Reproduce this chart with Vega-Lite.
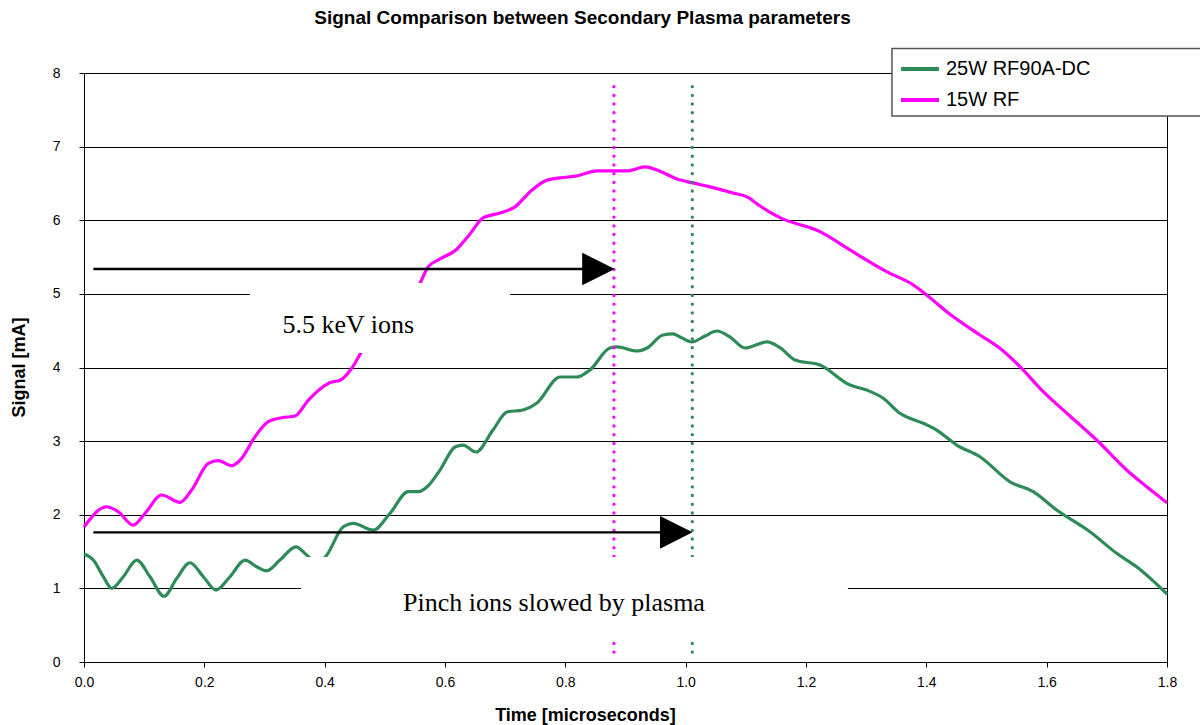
{
  "$schema": "https://vega.github.io/schema/vega-lite/v6.json",
  "width": 1083,
  "height": 589,
  "autosize": {"type": "none"},
  "padding": {"left": 84, "top": 73, "right": 33, "bottom": 63},
  "background": "white",
  "config": {"view": {"stroke": "#000", "strokeWidth": 1}, "font": "Liberation Sans"},
  "title": {"text": "Signal Comparison between Secondary Plasma parameters", "font": "Liberation Sans", "fontSize": 19, "fontWeight": "bold", "color": "#000", "anchor": "middle", "dx": -43, "offset": 5, "baseline": "alphabetic"},
  "datasets": {
    "series": [
      {"x": 0, "signal": 1.833, "series": "15W RF"},
      {"x": 0.0377, "signal": 2.109, "series": "15W RF"},
      {"x": 0.057, "signal": 2.041, "series": "15W RF"},
      {"x": 0.0819, "signal": 1.86, "series": "15W RF"},
      {"x": 0.1014, "signal": 2.019, "series": "15W RF"},
      {"x": 0.1291, "signal": 2.268, "series": "15W RF"},
      {"x": 0.1595, "signal": 2.168, "series": "15W RF"},
      {"x": 0.179, "signal": 2.336, "series": "15W RF"},
      {"x": 0.2066, "signal": 2.698, "series": "15W RF"},
      {"x": 0.2232, "signal": 2.734, "series": "15W RF"},
      {"x": 0.2455, "signal": 2.666, "series": "15W RF"},
      {"x": 0.2621, "signal": 2.766, "series": "15W RF"},
      {"x": 0.2842, "signal": 3.06, "series": "15W RF"},
      {"x": 0.3063, "signal": 3.264, "series": "15W RF"},
      {"x": 0.3286, "signal": 3.318, "series": "15W RF"},
      {"x": 0.3507, "signal": 3.341, "series": "15W RF"},
      {"x": 0.3729, "signal": 3.558, "series": "15W RF"},
      {"x": 0.4061, "signal": 3.785, "series": "15W RF"},
      {"x": 0.4283, "signal": 3.84, "series": "15W RF"},
      {"x": 0.445, "signal": 3.989, "series": "15W RF"},
      {"x": 0.4615, "signal": 4.215, "series": "15W RF"},
      {"x": 0.5, "signal": 4.578, "series": "15W RF"},
      {"x": 0.5335, "signal": 4.917, "series": "15W RF"},
      {"x": 0.5584, "signal": 5.144, "series": "15W RF"},
      {"x": 0.5717, "signal": 5.365, "series": "15W RF"},
      {"x": 0.5917, "signal": 5.474, "series": "15W RF"},
      {"x": 0.6182, "signal": 5.596, "series": "15W RF"},
      {"x": 0.6415, "signal": 5.814, "series": "15W RF"},
      {"x": 0.6631, "signal": 6.031, "series": "15W RF"},
      {"x": 0.6914, "signal": 6.099, "series": "15W RF"},
      {"x": 0.7163, "signal": 6.181, "series": "15W RF"},
      {"x": 0.7412, "signal": 6.384, "series": "15W RF"},
      {"x": 0.7662, "signal": 6.534, "series": "15W RF"},
      {"x": 0.7911, "signal": 6.575, "series": "15W RF"},
      {"x": 0.8193, "signal": 6.602, "series": "15W RF"},
      {"x": 0.8526, "signal": 6.67, "series": "15W RF"},
      {"x": 0.9024, "signal": 6.67, "series": "15W RF"},
      {"x": 0.9324, "signal": 6.724, "series": "15W RF"},
      {"x": 0.9523, "signal": 6.683, "series": "15W RF"},
      {"x": 0.9856, "signal": 6.561, "series": "15W RF"},
      {"x": 1.0122, "signal": 6.507, "series": "15W RF"},
      {"x": 1.0405, "signal": 6.453, "series": "15W RF"},
      {"x": 1.0787, "signal": 6.371, "series": "15W RF"},
      {"x": 1.1019, "signal": 6.317, "series": "15W RF"},
      {"x": 1.1235, "signal": 6.194, "series": "15W RF"},
      {"x": 1.1568, "signal": 6.035, "series": "15W RF"},
      {"x": 1.2233, "signal": 5.845, "series": "15W RF"},
      {"x": 1.2731, "signal": 5.596, "series": "15W RF"},
      {"x": 1.334, "signal": 5.302, "series": "15W RF"},
      {"x": 1.3783, "signal": 5.121, "series": "15W RF"},
      {"x": 1.4005, "signal": 4.985, "series": "15W RF"},
      {"x": 1.4338, "signal": 4.758, "series": "15W RF"},
      {"x": 1.4891, "signal": 4.442, "series": "15W RF"},
      {"x": 1.5223, "signal": 4.261, "series": "15W RF"},
      {"x": 1.5556, "signal": 4.011, "series": "15W RF"},
      {"x": 1.5943, "signal": 3.671, "series": "15W RF"},
      {"x": 1.6387, "signal": 3.341, "series": "15W RF"},
      {"x": 1.6831, "signal": 3.015, "series": "15W RF"},
      {"x": 1.7329, "signal": 2.607, "series": "15W RF"},
      {"x": 1.7662, "signal": 2.38, "series": "15W RF"},
      {"x": 1.8, "signal": 2.163, "series": "15W RF"},
      {"x": 0, "signal": 1.466, "series": "25W RF90A-DC"},
      {"x": 0.0155, "signal": 1.385, "series": "25W RF90A-DC"},
      {"x": 0.0321, "signal": 1.158, "series": "25W RF90A-DC"},
      {"x": 0.046, "signal": 1.0, "series": "25W RF90A-DC"},
      {"x": 0.0653, "signal": 1.158, "series": "25W RF90A-DC"},
      {"x": 0.0876, "signal": 1.385, "series": "25W RF90A-DC"},
      {"x": 0.1097, "signal": 1.158, "series": "25W RF90A-DC"},
      {"x": 0.133, "signal": 0.893, "series": "25W RF90A-DC"},
      {"x": 0.1541, "signal": 1.136, "series": "25W RF90A-DC"},
      {"x": 0.1762, "signal": 1.348, "series": "25W RF90A-DC"},
      {"x": 0.1983, "signal": 1.158, "series": "25W RF90A-DC"},
      {"x": 0.2194, "signal": 0.977, "series": "25W RF90A-DC"},
      {"x": 0.2426, "signal": 1.158, "series": "25W RF90A-DC"},
      {"x": 0.2676, "signal": 1.385, "series": "25W RF90A-DC"},
      {"x": 0.287, "signal": 1.293, "series": "25W RF90A-DC"},
      {"x": 0.3036, "signal": 1.239, "series": "25W RF90A-DC"},
      {"x": 0.3257, "signal": 1.385, "series": "25W RF90A-DC"},
      {"x": 0.3523, "signal": 1.565, "series": "25W RF90A-DC"},
      {"x": 0.3701, "signal": 1.452, "series": "25W RF90A-DC"},
      {"x": 0.3856, "signal": 1.357, "series": "25W RF90A-DC"},
      {"x": 0.4005, "signal": 1.421, "series": "25W RF90A-DC"},
      {"x": 0.4309, "signal": 1.837, "series": "25W RF90A-DC"},
      {"x": 0.4475, "signal": 1.883, "series": "25W RF90A-DC"},
      {"x": 0.4808, "signal": 1.792, "series": "25W RF90A-DC"},
      {"x": 0.5086, "signal": 2.019, "series": "25W RF90A-DC"},
      {"x": 0.539, "signal": 2.313, "series": "25W RF90A-DC"},
      {"x": 0.5556, "signal": 2.313, "series": "25W RF90A-DC"},
      {"x": 0.5717, "signal": 2.39, "series": "25W RF90A-DC"},
      {"x": 0.5917, "signal": 2.607, "series": "25W RF90A-DC"},
      {"x": 0.6166, "signal": 2.92, "series": "25W RF90A-DC"},
      {"x": 0.6299, "signal": 2.947, "series": "25W RF90A-DC"},
      {"x": 0.6515, "signal": 2.852, "series": "25W RF90A-DC"},
      {"x": 0.6797, "signal": 3.151, "series": "25W RF90A-DC"},
      {"x": 0.703, "signal": 3.395, "series": "25W RF90A-DC"},
      {"x": 0.7296, "signal": 3.423, "series": "25W RF90A-DC"},
      {"x": 0.7529, "signal": 3.518, "series": "25W RF90A-DC"},
      {"x": 0.7911, "signal": 3.871, "series": "25W RF90A-DC"},
      {"x": 0.8193, "signal": 3.871, "series": "25W RF90A-DC"},
      {"x": 0.8409, "signal": 3.967, "series": "25W RF90A-DC"},
      {"x": 0.8741, "signal": 4.265, "series": "25W RF90A-DC"},
      {"x": 0.8858, "signal": 4.279, "series": "25W RF90A-DC"},
      {"x": 0.919, "signal": 4.224, "series": "25W RF90A-DC"},
      {"x": 0.9357, "signal": 4.265, "series": "25W RF90A-DC"},
      {"x": 0.9623, "signal": 4.442, "series": "25W RF90A-DC"},
      {"x": 0.9789, "signal": 4.456, "series": "25W RF90A-DC"},
      {"x": 0.9905, "signal": 4.415, "series": "25W RF90A-DC"},
      {"x": 1.0105, "signal": 4.347, "series": "25W RF90A-DC"},
      {"x": 1.0321, "signal": 4.428, "series": "25W RF90A-DC"},
      {"x": 1.052, "signal": 4.496, "series": "25W RF90A-DC"},
      {"x": 1.0736, "signal": 4.415, "series": "25W RF90A-DC"},
      {"x": 1.0985, "signal": 4.265, "series": "25W RF90A-DC"},
      {"x": 1.1351, "signal": 4.347, "series": "25W RF90A-DC"},
      {"x": 1.1568, "signal": 4.269, "series": "25W RF90A-DC"},
      {"x": 1.1817, "signal": 4.102, "series": "25W RF90A-DC"},
      {"x": 1.2233, "signal": 4.034, "series": "25W RF90A-DC"},
      {"x": 1.2731, "signal": 3.762, "series": "25W RF90A-DC"},
      {"x": 1.3008, "signal": 3.694, "series": "25W RF90A-DC"},
      {"x": 1.3284, "signal": 3.582, "series": "25W RF90A-DC"},
      {"x": 1.3562, "signal": 3.378, "series": "25W RF90A-DC"},
      {"x": 1.3949, "signal": 3.242, "series": "25W RF90A-DC"},
      {"x": 1.4171, "signal": 3.151, "series": "25W RF90A-DC"},
      {"x": 1.4504, "signal": 2.947, "series": "25W RF90A-DC"},
      {"x": 1.4891, "signal": 2.788, "series": "25W RF90A-DC"},
      {"x": 1.539, "signal": 2.448, "series": "25W RF90A-DC"},
      {"x": 1.5777, "signal": 2.313, "series": "25W RF90A-DC"},
      {"x": 1.6166, "signal": 2.064, "series": "25W RF90A-DC"},
      {"x": 1.6719, "signal": 1.769, "series": "25W RF90A-DC"},
      {"x": 1.7163, "signal": 1.476, "series": "25W RF90A-DC"},
      {"x": 1.7495, "signal": 1.293, "series": "25W RF90A-DC"},
      {"x": 1.8, "signal": 0.923, "series": "25W RF90A-DC"}
    ],
    "markers": [
      {"x": 0.8808, "y": 7.815, "y2": 0.107, "series": "15W RF"},
      {"x": 1.011, "y": 7.815, "y2": 0.107, "series": "25W RF90A-DC"}
    ],
    "boxes": [
      {"x": 0.2759, "x2": 0.708, "y": 5.148, "y2": 4.197},
      {"x": 0.3606, "x2": 1.2697, "y": 1.425, "y2": 0.338}
    ],
    "labels": [
      {"x": 0.4393, "y": 4.473, "text": "5.5 keV ions"},
      {"x": 0.7811, "y": 0.686, "text": "Pinch ions slowed by plasma"}
    ],
    "arrows": [
      {"x": 0.0155, "x2": 0.86, "y": 5.338},
      {"x": 0.0155, "x2": 0.99, "y": 1.761}
    ],
    "heads": [
      {"x": 0.8551, "y": 5.338},
      {"x": 0.9844, "y": 1.761}
    ],
    "legendbox": [
      {"x": 1.3429, "x2": 1.8714, "y": 8.334, "y2": 7.417}
    ]
  },
  "layer": [
    {
      "data": {"name": "series"},
      "mark": {"type": "line", "interpolate": "monotone", "strokeWidth": 3.2},
      "encoding": {
        "x": {"field": "x", "type": "quantitative",
          "scale": {"domain": [0, 1.8], "nice": false, "zero": false},
          "axis": {"values": [0, 0.2, 0.4, 0.6, 0.8, 1.0, 1.2, 1.4, 1.6, 1.8], "format": ".1f", "title": "Time [microseconds]", "grid": false, "tickSize": 5, "tickColor": "#000", "domainColor": "#000", "labelFontSize": 14, "labelColor": "#000", "labelFont": "Liberation Sans", "labelPadding": 8, "labelFlush": false, "titleFont": "Liberation Sans", "titleFontSize": 18, "titleFontWeight": "bold", "titleColor": "#000", "titleX": 501, "titleY": 58, "titleBaseline": "alphabetic", "titleAlign": "center"}},
        "y": {"field": "signal", "type": "quantitative",
          "scale": {"domain": [0, 8], "nice": false, "zero": false},
          "axis": {"values": [0, 1, 2, 3, 4, 5, 6, 7, 8], "format": "d", "title": "Signal [mA]", "grid": true, "gridColor": "#000", "gridOpacity": 1, "gridWidth": 1, "tickSize": 5, "tickColor": "#000", "domainColor": "#000", "labelFontSize": 14, "labelColor": "#000", "labelFont": "Liberation Sans", "labelPadding": 19, "titleFont": "Liberation Sans", "titleFontSize": 18, "titleFontWeight": "bold", "titleColor": "#000", "titleX": -60, "titleY": 294, "titleAngle": 270, "titleBaseline": "alphabetic", "titleAlign": "center"}},
        "color": {"field": "series", "type": "nominal",
          "scale": {"domain": ["25W RF90A-DC", "15W RF"], "range": ["#2E8B57", "#FF00FF"]},
          "legend": {"orient": "none", "legendX": 815, "legendY": -25, "title": null, "symbolType": "stroke", "symbolSize": 1444, "symbolStrokeWidth": 4, "labelFontSize": 20, "labelFont": "Liberation Sans", "labelColor": "#000", "labelOffset": 5, "rowPadding": -7.5, "padding": 0}}
      }
    },
    {
      "data": {"name": "markers"},
      "mark": {"type": "rule", "strokeWidth": 3.3, "strokeCap": "round", "strokeDash": [0.1, 8.6]},
      "encoding": {
        "x": {"field": "x", "type": "quantitative", "title": "Time [microseconds]", "scale": {"domain": [0, 1.8], "nice": false, "zero": false}},
        "y": {"field": "y", "type": "quantitative", "title": "Signal [mA]", "scale": {"domain": [0, 8], "nice": false, "zero": false}},
        "y2": {"field": "y2"},
        "stroke": {"field": "series", "type": "nominal", "scale": {"domain": ["25W RF90A-DC", "15W RF"], "range": ["#2E8B57", "#FF00FF"]}, "legend": null}
      }
    },
    {
      "data": {"name": "boxes"},
      "mark": {"type": "rect", "fill": "white", "strokeWidth": 0},
      "encoding": {
        "x": {"field": "x", "type": "quantitative", "title": "Time [microseconds]", "scale": {"domain": [0, 1.8], "nice": false, "zero": false}},
        "x2": {"field": "x2"},
        "y": {"field": "y", "type": "quantitative", "title": "Signal [mA]", "scale": {"domain": [0, 8], "nice": false, "zero": false}},
        "y2": {"field": "y2"}
      }
    },
    {
      "data": {"name": "labels"},
      "mark": {"type": "text", "font": "Liberation Serif", "fontSize": 26, "color": "#000", "align": "center", "baseline": "alphabetic"},
      "encoding": {
        "x": {"field": "x", "type": "quantitative", "title": "Time [microseconds]", "scale": {"domain": [0, 1.8], "nice": false, "zero": false}},
        "y": {"field": "y", "type": "quantitative", "title": "Signal [mA]", "scale": {"domain": [0, 8], "nice": false, "zero": false}},
        "text": {"field": "text"}
      }
    },
    {
      "data": {"name": "arrows"},
      "mark": {"type": "rule", "strokeWidth": 2.4, "color": "#000"},
      "encoding": {
        "x": {"field": "x", "type": "quantitative", "title": "Time [microseconds]", "scale": {"domain": [0, 1.8], "nice": false, "zero": false}},
        "x2": {"field": "x2"},
        "y": {"field": "y", "type": "quantitative", "title": "Signal [mA]", "scale": {"domain": [0, 8], "nice": false, "zero": false}}
      }
    },
    {
      "data": {"name": "heads"},
      "mark": {"type": "point", "shape": "M-1,-1L1,0L-1,1Z", "filled": true, "color": "#000", "opacity": 1, "size": 1060, "strokeWidth": 0},
      "encoding": {
        "x": {"field": "x", "type": "quantitative", "title": "Time [microseconds]", "scale": {"domain": [0, 1.8], "nice": false, "zero": false}},
        "y": {"field": "y", "type": "quantitative", "title": "Signal [mA]", "scale": {"domain": [0, 8], "nice": false, "zero": false}}
      }
    },
    {
      "data": {"name": "legendbox"},
      "mark": {"type": "rect", "fill": "white", "stroke": "#555", "strokeWidth": 1.5},
      "encoding": {
        "x": {"field": "x", "type": "quantitative", "title": "Time [microseconds]", "scale": {"domain": [0, 1.8], "nice": false, "zero": false}},
        "x2": {"field": "x2"},
        "y": {"field": "y", "type": "quantitative", "title": "Signal [mA]", "scale": {"domain": [0, 8], "nice": false, "zero": false}},
        "y2": {"field": "y2"}
      }
    }
  ]
}
